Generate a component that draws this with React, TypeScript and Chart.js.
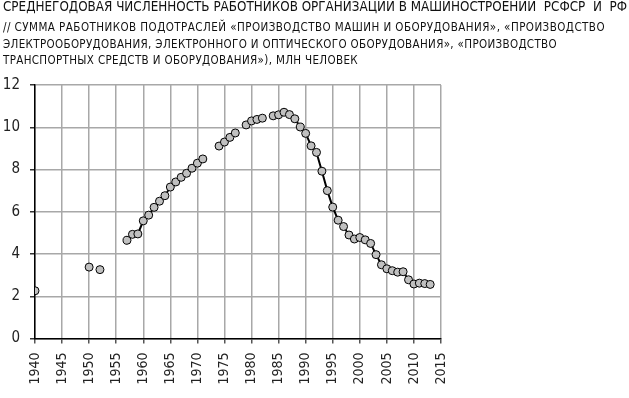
import React, { useEffect, useRef } from "react";
import { Chart, registerables } from "chart.js";

Chart.register(...registerables);

const titleLines = [
  "СРЕДНЕГОДОВАЯ ЧИСЛЕННОСТЬ РАБОТНИКОВ ОРГАНИЗАЦИИ В МАШИНОСТРОЕНИИ  РСФСР  И  РФ",
  "// СУММА РАБОТНИКОВ ПОДОТРАСЛЕЙ «ПРОИЗВОДСТВО МАШИН И ОБОРУДОВАНИЯ», «ПРОИЗВОДСТВО",
  "ЭЛЕКТРООБОРУДОВАНИЯ, ЭЛЕКТРОННОГО И ОПТИЧЕСКОГО ОБОРУДОВАНИЯ», «ПРОИЗВОДСТВО",
  "ТРАНСПОРТНЫХ СРЕДСТВ И ОБОРУДОВАНИЯ»), МЛН ЧЕЛОВЕК",
];

// years (null-valued years break the line between separate runs)
const years = [
  1940, 1941, 1950, 1951, 1952, 1953,
  1957, 1958, 1959, 1960, 1961, 1962, 1963, 1964, 1965, 1966, 1967, 1968, 1969, 1970, 1971,
  1972,
  1974, 1975, 1976, 1977,
  1978,
  1979, 1980, 1981, 1982,
  1983,
  1984, 1985, 1986, 1987, 1988, 1989, 1990, 1991, 1992, 1993, 1994, 1995, 1996, 1997, 1998,
  1999, 2000, 2001, 2002, 2003, 2004, 2005, 2006, 2007, 2008, 2009, 2010, 2011, 2012, 2013,
];

const employees: (number | null)[] = [
  2.26, null, 3.38, null, 3.26, null,
  4.65, 4.93, 4.95, 5.57, 5.84, 6.21, 6.5, 6.76, 7.17, 7.41, 7.63, 7.82, 8.06, 8.3, 8.5,
  null,
  9.11, 9.3, 9.52, 9.73,
  null,
  10.11, 10.3, 10.37, 10.43,
  null,
  10.54, 10.59, 10.71, 10.6, 10.4, 10.01, 9.71, 9.12, 8.81, 7.92, 7.0, 6.22, 5.6, 5.3, 4.9,
  4.71, 4.78, 4.67, 4.5, 3.97, 3.49, 3.3, 3.21, 3.14, 3.16, 2.78, 2.58, 2.62, 2.6, 2.56,
];

const FONT = "'Liberation Sans Narrow', 'DejaVu Sans Condensed', 'Liberation Sans', sans-serif";

const titlePlugin = {
  id: "multiTitle",
  afterDraw(chart: any) {
    const ctx = chart.ctx as CanvasRenderingContext2D;
    const specs = [
      { size: 13.5, y: 11, w: 624 },
      { size: 11.5, y: 31, w: 602 },
      { size: 11.5, y: 47.5, w: 554 },
      { size: 11.5, y: 64, w: 355 },
    ];
    ctx.save();
    ctx.fillStyle = "#111";
    ctx.textBaseline = "alphabetic";
    ctx.textAlign = "left";
    titleLines.forEach((t, i) => {
      const s = specs[i];
      ctx.font = `${s.size}px ${FONT}`;
      (ctx as any).letterSpacing = "0px";
      const natural = ctx.measureText(t).width;
      if (natural > s.w) {
        ctx.fillText(t, 3, s.y, s.w);
      } else {
        (ctx as any).letterSpacing = `${(s.w - natural) / t.length}px`;
        ctx.fillText(t, 3, s.y);
      }
    });
    ctx.restore();
  },
};

export default function App() {
  const ref = useRef<HTMLCanvasElement>(null);

  useEffect(() => {
    document.body.style.margin = "0";
    const canvas = ref.current;
    if (!canvas) return;
    const chart = new Chart(canvas, {
      type: "line",
      data: {
        datasets: [
          {
            data: years.map((x, i) => ({ x, y: employees[i] })),
            borderColor: "#000",
            borderWidth: 2,
            pointRadius: 4,
            pointBackgroundColor: "#c0c0c0",
            pointBorderColor: "#000",
            pointBorderWidth: 1,
            spanGaps: false,
            tension: 0,
          } as any,
        ],
      },
      options: {
        animation: false,
        responsive: false,
        layout: { padding: { left: 0, top: 85, right: 188, bottom: 0 } },
        plugins: { legend: { display: false }, tooltip: { enabled: false }, title: { display: false } },
        scales: {
          x: {
            type: "linear",
            min: 1940,
            max: 2015,
            afterFit: (s: any) => {
              s.height = 59.5;
            },
            ticks: {
              stepSize: 5,
              minRotation: 90,
              maxRotation: 90,
              padding: 9,
              color: "#222",
              font: { family: FONT, size: 14 },
              callback: (v: any) => String(v),
            },
            grid: { color: "#a8a8a8", lineWidth: 1.5, tickLength: 5, tickColor: "#555" },
            border: { color: "#000", width: 1.5 },
          },
          y: {
            min: 0,
            max: 12,
            afterFit: (s: any) => {
              s.width = 35;
            },
            ticks: {
              stepSize: 2,
              padding: 10,
              color: "#222",
              font: { family: FONT, size: 15 },
            },
            grid: { color: "#a8a8a8", lineWidth: 1.5, tickLength: 5, tickColor: "#333" },
            border: { color: "#000", width: 1.5 },
          },
        },
      },
      plugins: [titlePlugin],
    });
    return () => chart.destroy();
  }, []);

  return (
    <div style={{ width: 629, height: 398, background: "#fff" }}>
      <canvas ref={ref} width={629} height={398} />
    </div>
  );
}
